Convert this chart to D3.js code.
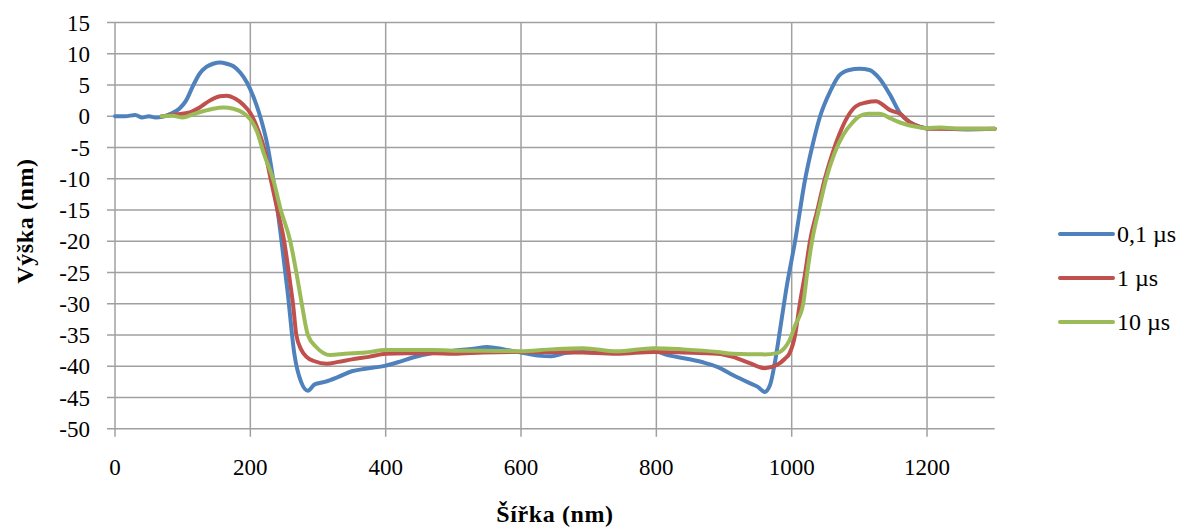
<!DOCTYPE html>
<html>
<head>
<meta charset="utf-8">
<script src="https://cdn.jsdelivr.net/npm/d3@7"></script>
<style>
  html, body { margin: 0; padding: 0; background: #fff; }
  svg { display: block; font-family: "Liberation Serif", "Times New Roman", serif; }
  .grid line { stroke: #a0a0a0; stroke-width: 1.5; }
  .tick-label { font-size: 23px; fill: #000; }
  .axis-title { font-size: 24px; font-weight: bold; fill: #000; letter-spacing: 0.6px; }
  .legend-label { font-size: 24px; fill: #000; }
</style>
</head>
<body>
<div id="chart"></div>
<script>
const seriesNames = ['0,1 \u00b5s', '1 \u00b5s', '10 \u00b5s'];
const seriesColors = ['#4f81bd', '#c0504d', '#9bbb59'];

const xTicks = [0, 200, 400, 600, 800, 1000, 1200];
const yTicks = [15, 10, 5, 0, -5, -10, -15, -20, -25, -30, -35, -40, -45, -50];

// 0,1 µs
const blueX = [0, 15, 30, 40, 50, 60, 70, 80, 95, 105, 115, 125, 135, 145, 155, 165, 175, 185, 195, 205,
  215, 225, 235, 245, 255, 265, 275, 285, 295, 310, 330, 350, 370, 400, 420, 440, 470, 500, 530, 550,
  575, 600, 625, 645, 665, 690, 720, 750, 780, 800, 820, 845, 870, 890, 913, 938, 950, 960, 968, 975,
  983, 993, 1005, 1020, 1030, 1042, 1057, 1070, 1085, 1100, 1115, 1130, 1145, 1160, 1175, 1190, 1200,
  1230, 1260, 1300];
const blueY = [0, 0, 0.2, -0.2, 0, -0.2, -0.1, 0.3, 1.2, 2.5, 4.8, 6.8, 7.9, 8.4, 8.6, 8.4, 8, 7, 5.4, 3,
  -0.2, -4.5, -11, -19, -28, -38, -42.5, -43.9, -42.9, -42.5, -41.7, -40.8, -40.4, -39.9, -39.3, -38.6, -37.9, -37.5, -37.2, -36.9,
  -37.3, -37.8, -38.3, -38.4, -37.9, -37.7, -37.8, -37.7, -37.6, -37.7, -38.3, -38.8, -39.4, -40.1, -41.4, -42.7, -43.3, -44.1, -43, -39.5,
  -34, -27, -20, -10, -5, 0, 4, 6.5, 7.4, 7.6, 7.4, 6, 3.5, 0.5, -1, -1.7, -1.9,
  -2, -2.1, -2];

// 1 µs
const redX = [69, 90, 110, 125, 140, 155, 165, 178, 190, 200, 210, 220, 230, 240, 250, 258, 263, 268, 275, 283,
  295, 313, 330, 350, 375, 400, 430, 470, 500, 544, 600, 643, 692, 741, 796, 840, 890, 913, 938, 960,
  978, 990, 997, 1005, 1012, 1020, 1027, 1038, 1049, 1060, 1070, 1083, 1095, 1110, 1125, 1135, 1145, 1160, 1175, 1190,
  1200, 1300];
const redY = [0, 0.3, 0.6, 1.4, 2.5, 3.2, 3.3, 2.8, 1.8, 0.5, -1.8, -5, -10, -15, -20, -26, -30, -35, -37.3, -38.5,
  -39.2, -39.6, -39.3, -38.9, -38.5, -38, -37.9, -37.9, -38, -37.8, -37.7, -37.7, -37.8, -38, -37.7, -37.8, -38, -38.5, -39.5, -40.3,
  -39.8, -38.8, -37.9, -35, -30, -25, -20, -15, -10, -6, -3, 0, 1.6, 2.2, 2.4, 1.8, 1, 0.4, -1, -1.7,
  -2, -2];

// 10 µs
const greenX = [69, 85, 100, 115, 130, 145, 160, 175, 190, 200, 210, 220, 234, 245, 259, 268, 276, 285, 298, 318,
  340, 370, 400, 430, 470, 500, 544, 600, 643, 692, 741, 796, 840, 890, 913, 960, 978, 990, 997, 1005,
  1017, 1023, 1030, 1040, 1051, 1063, 1076, 1090, 1100, 1113, 1130, 1145, 1160, 1180, 1200, 1220, 1250, 1300];
const greenY = [0, 0.1, -0.2, 0.3, 0.8, 1.2, 1.4, 1.2, 0.5, -0.5, -2.5, -6, -10.2, -15, -20, -25, -30, -35, -37, -38.2,
  -38, -37.8, -37.4, -37.4, -37.4, -37.5, -37.5, -37.6, -37.3, -37.1, -37.6, -37.1, -37.3, -37.7, -38, -38.1, -37.9, -37, -35.8, -33.5,
  -30, -25, -20, -15, -10, -6, -3, -1, 0, 0.4, 0.4, -0.3, -1, -1.6, -1.9, -1.8, -2, -2];

const seriesX = [blueX, redX, greenX];
const seriesY = [blueY, redY, greenY];

const W = 1189, H = 527;
const svg = d3.select('#chart').append('svg')
  .attr('width', W)
  .attr('height', H);

const x = d3.scaleLinear().domain([0, 1300]).range([115, 994.7]);
const y = d3.scaleLinear().domain([-50, 15]).range([428.75, 22.5]);

// grid lines + tick marks
const grid = svg.append('g').attr('class', 'grid');
grid.selectAll('line.h')
  .data(yTicks)
  .enter().append('line')
  .attr('x1', x(0) - 8).attr('x2', x(1300))
  .attr('y1', d => y(d)).attr('y2', d => y(d));
grid.selectAll('line.v')
  .data(xTicks)
  .enter().append('line')
  .attr('x1', d => x(d)).attr('x2', d => x(d))
  .attr('y1', y(15)).attr('y2', y(-50) + 8);

// tick labels
svg.append('g').selectAll('text')
  .data(yTicks)
  .enter().append('text')
  .attr('class', 'tick-label')
  .attr('x', 90)
  .attr('y', d => y(d))
  .attr('dy', '0.35em')
  .attr('text-anchor', 'end')
  .text(d => d);

svg.append('g').selectAll('text')
  .data(xTicks)
  .enter().append('text')
  .attr('class', 'tick-label')
  .attr('x', d => x(d))
  .attr('y', 475)
  .attr('text-anchor', 'middle')
  .text(d => d);

// axis titles
svg.append('text')
  .attr('class', 'axis-title')
  .attr('x', 555)
  .attr('y', 522)
  .attr('text-anchor', 'middle')
  .text('Šířka (nm)');

svg.append('text')
  .attr('class', 'axis-title')
  .attr('transform', 'translate(33,221) rotate(-90)')
  .attr('text-anchor', 'middle')
  .text('Výška (nm)');

// series
const line = d3.line()
  .x(d => x(d[0]))
  .y(d => y(d[1]))
  .curve(d3.curveMonotoneX);

seriesX.forEach((xs, i) => {
  const pts = xs.map((v, j) => [v, seriesY[i][j]]);
  svg.append('path')
    .datum(pts)
    .attr('fill', 'none')
    .attr('stroke', seriesColors[i])
    .attr('stroke-width', 4)
    .attr('stroke-linejoin', 'round')
    .attr('stroke-linecap', 'round')
    .attr('d', line);
});

// legend
const legend = svg.append('g').selectAll('g')
  .data(seriesNames)
  .enter().append('g')
  .attr('transform', (d, i) => `translate(1060,${234 + i * 44})`);

legend.append('line')
  .attr('x1', 0).attr('x2', 53)
  .attr('stroke', (d, i) => seriesColors[i])
  .attr('stroke-width', 4)
  .attr('stroke-linecap', 'round');

legend.append('text')
  .attr('class', 'legend-label')
  .attr('x', 57)
  .attr('dy', '0.35em')
  .text(d => d);
</script>
</body>
</html>
